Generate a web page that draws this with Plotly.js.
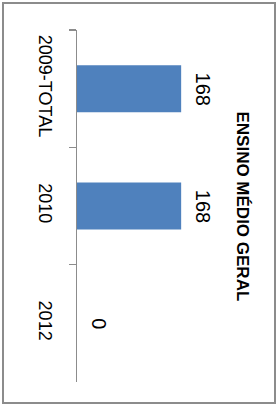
<!DOCTYPE html>
<html>
<head>
<meta charset="utf-8">
<script src="https://cdn.plot.ly/plotly-3.0.1.min.js"></script>
<style>
  html, body { margin: 0; padding: 0; background: #fff; }
  #chart { width: 278px; height: 406px; }
  #frame { position: absolute; left: 2px; top: 2px; width: 270px; height: 398px;
           border: 2px solid #8c8c8c; pointer-events: none; }
</style>
</head>
<body>
<div id="chart"></div>
<div id="frame"></div>
<script>
const categories = ["2009-TOTAL", "2010", "2012"];
const values = [168, 168, 0];
const chartTitle = "ENSINO MÉDIO GERAL";

const FONT = "Liberation Sans, Arial, sans-serif";

const annotations = categories.map((c, i) => ({
  x: values[i], y: i, xref: "x", yref: "y",
  text: String(values[i]), showarrow: false, textangle: 90,
  xanchor: "center", yanchor: "middle", xshift: 22,
  font: { family: FONT, size: 20, color: "#000" }
}));
annotations.push({
  x: 0.89, y: 0.5, xref: "paper", yref: "paper",
  text: "<b>" + chartTitle + "</b>", showarrow: false, textangle: 90,
  xanchor: "center", yanchor: "middle",
  font: { family: FONT, size: 17, color: "#000" }
});

const data = [{
  type: "bar", orientation: "h",
  x: values, y: categories,
  marker: { color: "#4F81BD" },
  width: 0.4
}];

const layout = {
  width: 278, height: 406,
  margin: { l: 77, r: 15, t: 30, b: 24, pad: 0 },
  paper_bgcolor: "#fff", plot_bgcolor: "#fff",
  showlegend: false,
  xaxis: { range: [0, 300], visible: false, fixedrange: true },
  yaxis: {
    type: "category", categoryorder: "array", categoryarray: categories,
    range: [2.5, -0.5], autorange: false,
    showline: true, linecolor: "#8c8c8c", linewidth: 1.5,
    ticks: "outside", tickson: "boundaries", ticklen: 7, tickcolor: "#8c8c8c", tickwidth: 1.5,
    tickangle: 90, showgrid: false, zeroline: false,
    ticklabelstandoff: 15,
    tickfont: { family: FONT, size: 18, color: "#000" }
  },
  annotations: annotations
};

Plotly.newPlot("chart", data, layout, { staticPlot: true, displayModeBar: false });
</script>
</body>
</html>
